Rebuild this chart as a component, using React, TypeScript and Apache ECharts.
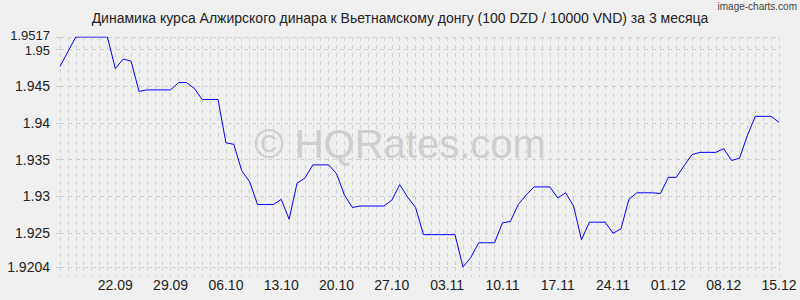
import React, { useEffect, useRef } from "react";
import * as echarts from "echarts";

const dates = [
  "15.09", "16.09", "17.09", "18.09", "19.09", "20.09", "21.09", "22.09", "23.09", "24.09",
  "25.09", "26.09", "27.09", "28.09", "29.09", "30.09",
  "01.10", "02.10", "03.10", "04.10", "05.10", "06.10", "07.10", "08.10", "09.10", "10.10",
  "11.10", "12.10", "13.10", "14.10", "15.10", "16.10", "17.10", "18.10", "19.10", "20.10",
  "21.10", "22.10", "23.10", "24.10", "25.10", "26.10", "27.10", "28.10", "29.10", "30.10", "31.10",
  "01.11", "02.11", "03.11", "04.11", "05.11", "06.11", "07.11", "08.11", "09.11", "10.11",
  "11.11", "12.11", "13.11", "14.11", "15.11", "16.11", "17.11", "18.11", "19.11", "20.11",
  "21.11", "22.11", "23.11", "24.11", "25.11", "26.11", "27.11", "28.11", "29.11", "30.11",
  "01.12", "02.12", "03.12", "04.12", "05.12", "06.12", "07.12", "08.12", "09.12", "10.12",
  "11.12", "12.12", "13.12", "14.12", "15.12",
];

const rates = [
  1.9477, 1.9497, 1.9517, 1.9517, 1.9517, 1.9517, 1.9517, 1.9474, 1.9487, 1.9484,
  1.9443, 1.9445, 1.9445, 1.9445, 1.9445, 1.9455, 1.9455, 1.9447, 1.9432, 1.9432,
  1.9432, 1.9373, 1.9371, 1.9335, 1.932, 1.9289, 1.9289, 1.9289, 1.9296, 1.9269,
  1.9318, 1.9325, 1.9343, 1.9343, 1.9343, 1.9331, 1.9302, 1.9285, 1.9287, 1.9287,
  1.9287, 1.9287, 1.9295, 1.9316, 1.9299, 1.9285, 1.9248, 1.9248, 1.9248, 1.9248,
  1.9248, 1.9204, 1.9217, 1.9237, 1.9237, 1.9237, 1.9264, 1.9266, 1.9289, 1.9302,
  1.9313, 1.9313, 1.9313, 1.9298, 1.9305, 1.9287, 1.9241, 1.9265, 1.9265, 1.9265,
  1.925, 1.9256, 1.9296, 1.9305, 1.9305, 1.9305, 1.9304, 1.9326, 1.9326, 1.9342,
  1.9357, 1.936, 1.936, 1.936, 1.9365, 1.9349, 1.9352, 1.9383, 1.9409, 1.9409,
  1.9409, 1.9401,
];

const yTicks = [1.9204, 1.925, 1.93, 1.935, 1.94, 1.945, 1.95, 1.9517];
const yLabelsMain = [1.9204, 1.925, 1.93, 1.935, 1.94, 1.945, 1.95];
const yLabelsTop = [1.9517];
const yCrowded = 1.95;
const yMin = 1.9204;
const yMax = 1.9517;

const titleText =
  "Динамика курса Алжирского динара к Вьетнамскому донгу (100 DZD / 10000 VND) за 3 месяца";
const watermarkText = "© HQRates.com";
const creditText = "image-charts.com";

const FONT = "'Liberation Sans', Arial, sans-serif";
const GRID_COLOR = "#cfcfcf";

const yLabelBase = {
  margin: 10,
  fontSize: 14,
  color: "#222",
  fontFamily: FONT,
};

export default function App() {
  const ref = useRef<HTMLDivElement>(null);

  useEffect(() => {
    if (!ref.current) return;
    const chart = echarts.init(ref.current, null, { renderer: "svg" });
    chart.setOption({
      animation: false,
      backgroundColor: "#f0f0f0",
      textStyle: { fontFamily: FONT },
      title: {
        text: titleText,
        left: "center",
        top: 11,
        padding: 0,
        textStyle: { fontSize: 14, fontWeight: "normal", color: "#222", fontFamily: FONT },
      },
      graphic: [
        {
          type: "text",
          x: 400,
          y: 144,
          z: 0,
          silent: true,
          style: {
            text: watermarkText,
            fontSize: 40,
            fontFamily: FONT,
            fill: "#cdcdcd",
            align: "center",
            verticalAlign: "middle",
          },
        },
        {
          type: "text",
          x: 797,
          y: 6,
          silent: true,
          style: {
            text: creditText,
            fontSize: 10,
            fontFamily: FONT,
            fill: "#444",
            align: "right",
            verticalAlign: "middle",
          },
        },
      ],
      grid: { left: 60, right: 21, top: 37, bottom: 33 },
      xAxis: {
        type: "category",
        data: dates,
        boundaryGap: false,
        axisLine: { show: false },
        axisTick: {
          show: true,
          interval: 0,
          length: 10,
          lineStyle: { color: GRID_COLOR, type: [4, 4] },
        },
        axisLabel: {
          interval: (i: number) => i % 7 === 0 && i > 0,
          margin: 11,
          fontSize: 14,
          color: "#222",
          fontFamily: FONT,
          showMaxLabel: true,
        },
        splitLine: {
          show: true,
          interval: 0,
          lineStyle: { color: GRID_COLOR, type: [4, 4], width: 1 },
        },
      },
      yAxis: [
        {
          type: "value",
          min: yMin,
          max: yMax,
          position: "left",
          axisLine: { show: false },
          axisTick: {
            show: true,
            length: 8,
            customValues: yTicks,
            lineStyle: { color: GRID_COLOR, type: [4, 4] },
          },
          axisLabel: {
            ...yLabelBase,
            customValues: yLabelsMain,
            showMinLabel: true,
            formatter: (v: number) =>
              Math.abs(v - yCrowded) < 1e-9 ? `{low|${v}}` : String(v),
            rich: {
              low: {
                fontSize: 13,
                fontFamily: FONT,
                color: "#222",
                padding: [3, 0, 0, 0],
              },
            },
          },
          splitLine: {
            show: true,
            lineStyle: { color: GRID_COLOR, type: [4, 4], width: 1 },
          },
        },
        {
          type: "value",
          min: yMin,
          max: yMax,
          position: "left",
          offset: 0,
          axisLine: { show: false },
          axisTick: { show: false, customValues: yLabelsTop },
          splitLine: { show: false },
          axisLabel: {
            ...yLabelBase,
            customValues: yLabelsTop,
            showMaxLabel: true,
            formatter: (v: number) => `{high|${v}}`,
            rich: {
              high: {
                fontSize: 13,
                fontFamily: FONT,
                color: "#222",
                padding: [0, 0, 3, 0],
              },
            },
          },
        },
      ],
      series: [
        {
          type: "line",
          data: rates,
          yAxisIndex: 0,
          symbol: "none",
          showSymbol: false,
          silent: true,
          lineStyle: { color: "#0000ff", width: 1 },
          z: 3,
        },
      ],
    });
    return () => chart.dispose();
  }, []);

  return (
    <div
      ref={ref}
      style={{ position: "absolute", left: 0, top: 0, width: 800, height: 300 }}
    />
  );
}
